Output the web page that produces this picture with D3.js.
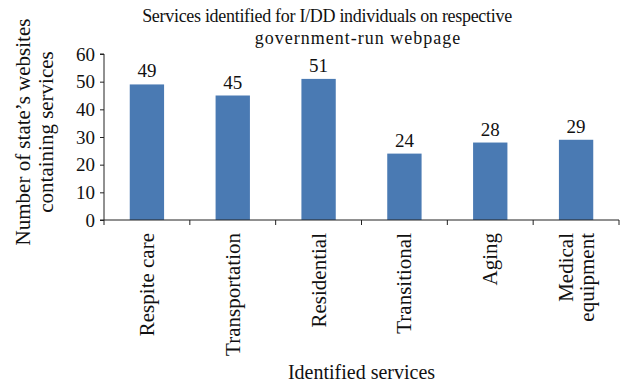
<!DOCTYPE html>
<html>
<head>
<meta charset="utf-8">
<script src="https://cdn.jsdelivr.net/npm/d3@7"></script>
<style>
  body { margin: 0; background: #fff; }
  text { font-family: "Liberation Serif", "DejaVu Serif", serif; fill: #111; }
</style>
</head>
<body>
<div class="chart"></div>
<script>
// data
var services = ["Respite care", "Transportation", "Residential", "Transitional", "Aging", "Medical equipment"];
var counts = [49, 45, 51, 24, 28, 29];
var yTicks = [0, 10, 20, 30, 40, 50, 60];
var titleLines = ["Services identified for I/DD individuals on respective", "government-run webpage"];
var yTitleLines = ["Number of state\u2019s websites", "containing services"];
var xTitle = "Identified services";

var width = 632, height = 385;
var margin = { top: 54, right: 13, bottom: 165, left: 104 };
var innerW = width - margin.left - margin.right;
var innerH = height - margin.top - margin.bottom;

var svg = d3.select(".chart")
  .append("svg")
    .attr("width", width)
    .attr("height", height);

var g = svg.append("g")
    .attr("transform", "translate(" + margin.left + "," + margin.top + ")");

var x = d3.scaleBand()
  .domain(services)
  .range([0, innerW])
  .paddingInner(0.6)
  .paddingOuter(0.3);

var y = d3.scaleLinear()
  .domain([0, 60])
  .range([innerH, 0]);

// bars
g.selectAll(".bar")
  .data(counts)
  .enter().append("rect")
    .attr("x", function(d, i) { return x(services[i]); })
    .attr("y", function(d) { return y(d); })
    .attr("width", x.bandwidth())
    .attr("height", function(d) { return innerH - y(d); })
    .style("fill", "#4a7ab3");

// value labels
g.selectAll(".val")
  .data(counts)
  .enter().append("text")
    .attr("x", function(d, i) { return x(services[i]) + x.bandwidth() / 2; })
    .attr("y", function(d) { return y(d) - 7; })
    .attr("text-anchor", "middle")
    .style("font-size", "19px")
    .text(function(d) { return d; });

// y axis
var yAxis = g.append("g")
  .call(d3.axisLeft(y).tickValues(yTicks).tickSize(4).tickPadding(5));
yAxis.selectAll("text").style("font-size", "19px").style("font-family", "Liberation Serif, serif").attr("fill", "#111");
yAxis.selectAll("line, path").attr("stroke", "#222");
yAxis.select(".domain").attr("d", "M-4,0H0V" + innerH + "H-4");

// x axis: ticks sit on the category boundaries
var xAxis = g.append("g")
  .attr("transform", "translate(0," + innerH + ")");
xAxis.append("line")
  .attr("x1", 0).attr("x2", innerW)
  .attr("stroke", "#222");
var bounds = d3.range(services.length + 1).map(function(i) { return i * x.step(); });
xAxis.selectAll(".xt")
  .data(bounds)
  .enter().append("line")
    .attr("x1", function(d) { return d; })
    .attr("x2", function(d) { return d; })
    .attr("y1", 0).attr("y2", 5)
    .attr("stroke", "#222");

// rotated category labels, wrapped on two lines for "Medical equipment"
var labelLines = services.map(function(s) { return s == "Medical equipment" ? ["Medical", "equipment"] : [s]; });
xAxis.selectAll(".xl")
  .data(services)
  .enter().append("text")
    .attr("transform", function(d) { return "translate(" + (x(d) + x.bandwidth() / 2) + ",13) rotate(-90)"; })
    .attr("text-anchor", "end")
    .style("font-size", "21px")
    .each(function(d, i) {
      var lines = labelLines[i];
      var t = d3.select(this);
      lines.forEach(function(l, j) {
        t.append("tspan")
          .attr("x", 0)
          .attr("y", (j - (lines.length - 1) / 2) * 21 + 7)
          .text(l);
      });
    });

// axis titles
svg.append("text")
  .attr("x", margin.left + innerW / 2)
  .attr("y", 379)
  .attr("text-anchor", "middle")
  .style("font-size", "20px")
  .text(xTitle);

var yt = svg.append("text")
  .attr("transform", "translate(34," + (margin.top + innerH / 2 - 5) + ") rotate(-90)")
  .attr("text-anchor", "middle")
  .style("font-size", "21px");
yTitleLines.forEach(function(l, j) {
  yt.append("tspan").attr("x", 0).attr("y", (j - 0.5) * 23 + 7).text(l);
});

// title
var tt = svg.append("text")
  .attr("text-anchor", "middle")
  .style("font-size", "18px");
tt.append("tspan")
  .attr("x", 327).attr("y", 22)
  .style("letter-spacing", "-0.3px")
  .text(titleLines[0]);
tt.append("tspan")
  .attr("x", 358).attr("y", 44)
  .style("letter-spacing", "1px")
  .text(titleLines[1]);
</script>
</body>
</html>
